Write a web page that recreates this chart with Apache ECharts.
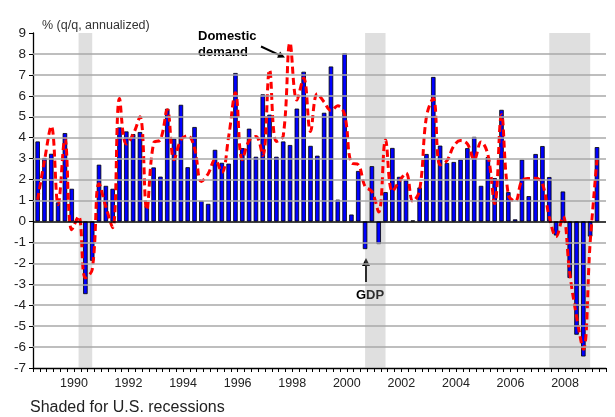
<!DOCTYPE html>
<html>
<head>
<meta charset="utf-8">
<script src="https://cdn.jsdelivr.net/npm/echarts@6/dist/echarts.min.js"></script>
<style>
  html, body { margin: 0; padding: 0; background: #fff; }
  #chart { width: 615px; height: 417px; }
</style>
</head>
<body>
<div id="chart"></div>
<script>
// quarterly data, 1989Q1 .. 2009Q3
const firstYear = 1989
const gdp = [
  3.82, 3.03, 3.23, 0.91, 4.22, 1.56, 0.02, -3.47, -1.88, 2.71,
  1.70, 1.56, 4.49, 4.30, 4.17, 4.27, 0.75, 2.58, 2.14, 5.38,
  3.95, 5.57, 2.59, 4.51, 0.98, 0.84, 3.42, 2.80, 2.76, 7.09,
  3.50, 4.43, 3.09, 6.07, 5.10, 3.09, 3.82, 3.65, 5.39, 7.15,
  3.61, 3.14, 5.19, 7.40, 1.04, 8.04, 0.33, 2.41, -1.32, 2.64,
  -1.08, 1.40, 3.51, 2.13, 1.96, 0.05, 1.62, 3.22, 6.90, 3.62,
  2.79, 2.84, 2.95, 3.50, 4.04, 1.70, 3.07, 2.07, 5.33, 1.40,
  0.10, 2.95, 1.21, 3.22, 3.60, 2.12, -0.67, 1.43, -2.70, -5.41,
  -6.45, -0.72, 3.55
]
const domestic = [
  1.03, 2.9, 4.55, 0.8, 3.95, -0.4, 0.24, -2.7, -2.3, 1.8,
  0.7, -0.3, 5.87, 3.7, 4.15, 5.0, 0.56, 3.74, 3.9, 5.33,
  2.95, 3.9, 4.09, 3.5, 1.91, 2.28, 2.95, 2.35, 4.05, 6.15,
  2.95, 3.86, 4.06, 3.15, 7.24, 3.82, 4.08, 8.53, 5.8, 6.85,
  4.3, 6.1, 5.7, 5.3, 5.52, 5.1, 2.79, 2.71, 1.67, 1.43,
  0.45, 3.9, 1.43, 1.91, 2.31, 0.96, 1.5, 5.01, 5.87, 2.7,
  2.9, 3.6, 3.86, 3.7, 2.95, 3.8, 3.2, 0.85, 5.1, 1.27,
  0.96, 1.95, 2.05, 2.06, 1.8, 0.22, -0.72, 0.24, -2.47, -4.54,
  -6.1, -1.0, 2.95
]
// recession start / end quarters
const recessions = [['1990Q3', '1991Q1'], ['2001Q1', '2001Q4'], ['2007Q4', '2009Q2']]
const gridValues = [8, 7, 6, 5, 4, 3, 2, 1, -1, -2, -3, -4, -5, -6]
const yearLabels = ['1990', '1992', '1994', '1996', '1998', '2000', '2002', '2004', '2006', '2008']

const quarters = gdp.map((_, i) => (firstYear + Math.floor(i / 4)) + 'Q' + (i % 4 + 1))

// position of a quarter on the time axis (in years)
function quarterPos(q) {
  const y = +q.slice(0, 4)
  const n = +q.slice(5)
  return y + (n - 1) / 4 + 0.17
}

const chart = echarts.init(document.getElementById('chart'))

const font = 'Arial, "Liberation Sans", sans-serif'

const option = {
  animation: false,
  grid: { left: 33, right: 9, top: 33, bottom: 49 },
  xAxis: [{
    type: 'value',
    min: 1989,
    max: 2010,
    interval: 0.25,
    axisLine: { onZero: false, lineStyle: { color: '#000', width: 1.3 } },
    axisTick: { length: 4, lineStyle: { color: '#000' } },
    axisLabel: { show: false },
    splitLine: { show: false }
  }, {
    // labels centred on each year
    type: 'value',
    position: 'bottom',
    min: 1988.5,
    max: 2009.5,
    interval: 0.5,
    axisLine: { show: false },
    axisTick: { show: false },
    splitLine: { show: false },
    axisLabel: {
      margin: 9,
      color: '#222',
      fontSize: 12.5,
      fontFamily: font,
      formatter: v => yearLabels.includes(String(v)) ? String(v) : ''
    }
  }],
  yAxis: {
    type: 'value',
    min: -7,
    max: 9,
    interval: 1,
    axisLine: { show: true, lineStyle: { color: '#000', width: 1.3 } },
    axisTick: { show: true, length: 4, lineStyle: { color: '#000' } },
    axisLabel: { margin: 7, color: '#222', fontSize: 13.5, fontFamily: font },
    splitLine: { show: false }
  },
  series: [{
    type: 'line',
    data: [],
    z: 1,
    silent: true,
    markArea: {
      silent: true,
      itemStyle: { color: 'rgba(150,150,150,0.3)' },
      data: recessions.map(r => [{ xAxis: quarterPos(r[0]) }, { xAxis: quarterPos(r[1]) }])
    },
    markLine: {
      silent: true,
      symbol: 'none',
      label: { show: false },
      lineStyle: { color: '#a8a8a8', width: 1.5, type: 'solid' },
      data: gridValues.map(v => ({ yAxis: v }))
    }
  }, {
    name: 'GDP',
    type: 'bar',
    z: 2,
    barWidth: 4.5,
    data: gdp.map((v, i) => [quarterPos(quarters[i]), v]),
    itemStyle: { color: '#0000ff', borderColor: '#000', borderWidth: 0.8 },
    markLine: {
      silent: true,
      symbol: 'none',
      label: { show: false },
      lineStyle: { color: '#000', width: 1.5, type: 'solid' },
      data: [{ yAxis: 0 }]
    }
  }, {
    name: 'Domestic demand',
    type: 'line',
    z: 3,
    smooth: 0.4,
    showSymbol: false,
    data: domestic.map((v, i) => [quarterPos(quarters[i]), v]),
    lineStyle: { color: '#ff0000', width: 3, type: [7, 4], cap: 'butt' }
  }],
  graphic: [
    { type: 'text', left: 42, top: 19, style: { text: '% (q/q, annualized)', font: '12.5px ' + font, fill: '#333' } },
    { type: 'text', left: 30, top: 400, style: { text: 'Shaded for U.S. recessions', font: '16px ' + font, fill: '#222' } },
    { type: 'text', left: 198, top: 28, style: { text: 'Domestic\ndemand', font: 'bold 13px ' + font, fill: '#000', lineHeight: 16 } },
    { type: 'line', shape: { x1: 261, y1: 46.5, x2: 279, y2: 54.8 }, style: { stroke: '#000', lineWidth: 2 } },
    { type: 'polygon', shape: { points: [[285, 57.5], [277.1, 57.8], [280.1, 51.4]] }, style: { fill: '#000' } },
    { type: 'text', left: 356, top: 289, style: { text: 'GDP', font: 'bold 13px ' + font, fill: '#000' } },
    { type: 'line', shape: { x1: 366, y1: 282, x2: 366, y2: 265 }, style: { stroke: '#000', lineWidth: 2 } },
    { type: 'polygon', shape: { points: [[366, 258], [362, 266], [370, 266]] }, style: { fill: '#000' } }
  ]
}

chart.setOption(option)
</script>
</body>
</html>
